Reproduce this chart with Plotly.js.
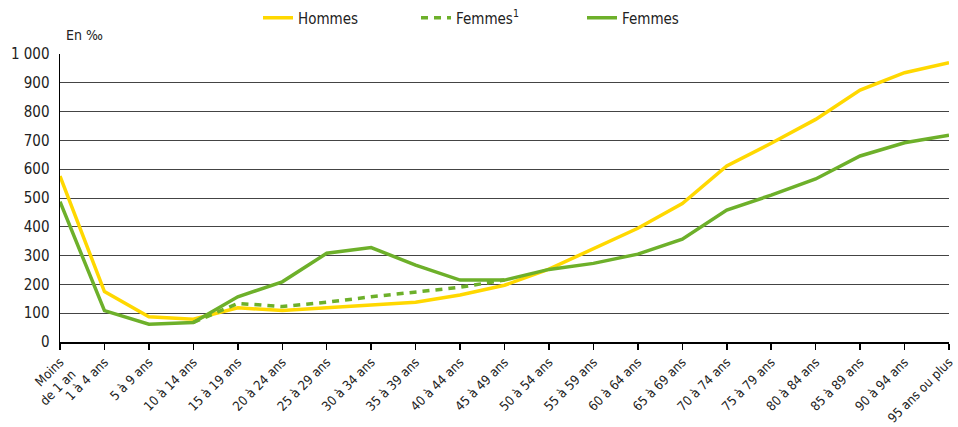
<!DOCTYPE html>
<html><head><meta charset="utf-8">
<script src="https://cdn.plot.ly/plotly-3.0.1.min.js"></script>
<style>body{margin:0;background:#fff}#chart{width:958px;height:427px}</style>
</head><body><div id="chart"></div>
<script>
const categories = ["Moins<br>de 1 an","1 à 4 ans","5 à 9 ans","10 à 14 ans","15 à 19 ans","20 à 24 ans","25 à 29 ans","30 à 34 ans","35 à 39 ans","40 à 44 ans","45 à 49 ans","50 à 54 ans","55 à 59 ans","60 à 64 ans","65 à 69 ans","70 à 74 ans","75 à 79 ans","80 à 84 ans","85 à 89 ans","90 à 94 ans","95 ans ou plus"];
const hommes = [576,175,88,79,119,109,119,128,138,163,197,253,325,395,481,611,690,773,875,935,970];
const femmes = [487,109,62,68,157,209,308,328,267,215,215,252,273,305,357,458,510,566,646,692,718];
const femmes1 = [null,null,null,68,134,123,138,157,175,190,215,null,null,null,null,null,null,null,null,null,null];
const yTickVals = [0,100,200,300,400,500,600,700,800,900,1000];
const yTickText = ["0","100","200","300","400","500","600","700","800","900","1 000"];

const FONT = "'DejaVu Sans Condensed', 'Liberation Sans Narrow', 'Roboto', sans-serif";
const yellow = "#FFD800", green = "#6DB02A";

const traces = [
  {x: categories, y: hommes, name: "Hommes", type: "scatter", mode: "lines", line: {color: yellow, width: 3.5}, legend: "legend"},
  {x: categories, y: femmes1, name: "Femmes<sup>1</sup>", type: "scatter", mode: "lines", line: {color: green, width: 3.5, dash: "7px,6px"}, legend: "legend2"},
  {x: categories, y: femmes, name: "Femmes", type: "scatter", mode: "lines", line: {color: green, width: 3.5}, legend: "legend3"}
];

const legBase = {orientation: "h", xref: "container", yref: "container", y: 0.958, yanchor: "middle", xanchor: "left",
  font: {size: 15, color: "#222", family: FONT}, bgcolor: "rgba(0,0,0,0)"};

const layout = {
  width: 958, height: 427,
  margin: {l: 60, r: 9, t: 54, b: 85},
  paper_bgcolor: "#fff", plot_bgcolor: "#fff",
  font: {family: FONT, size: 14, color: "#222"},
  showlegend: true,
  legend: Object.assign({}, legBase, {x: 258/958}),
  legend2: Object.assign({}, legBase, {x: 416/958}),
  legend3: Object.assign({}, legBase, {x: 582/958}),
  xaxis: {
    type: "category", range: [0, 20], tickangle: -45, showline: true, linecolor: "#000", linewidth: 1.5,
    ticks: "outside", ticklen: 6, tickcolor: "#000", tickwidth: 1.5, showgrid: false, zeroline: false,
    tickfont: {size: 13, family: FONT, color: "#222"}, fixedrange: true, automargin: false
  },
  yaxis: {
    range: [0, 1000], tickvals: yTickVals, ticktext: yTickText, showline: true, linecolor: "#000", linewidth: 1.5,
    showgrid: true, gridcolor: "#444", gridwidth: 1, zeroline: false, ticks: "", ticklabelstandoff: 6,
    tickfont: {size: 15, family: FONT, color: "#222"}, fixedrange: true, automargin: false
  },
  annotations: [{text: "En ‰", xref: "paper", yref: "paper", x: 0.0, y: 1.03, xanchor: "left", yanchor: "bottom", xshift: 4, showarrow: false, font: {size: 14, family: FONT, color: "#222"}}]
};
Plotly.newPlot("chart", traces, layout, {displayModeBar: false, staticPlot: true});
</script></body></html>
